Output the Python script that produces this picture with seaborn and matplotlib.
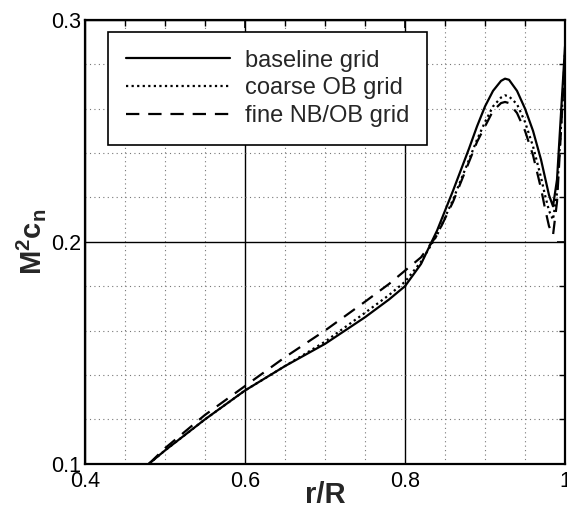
import numpy as np
import pandas as pd
import seaborn as sns
import matplotlib
matplotlib.use("Agg")
import matplotlib.pyplot as plt
from matplotlib.ticker import MultipleLocator

# data
x_base = [0.48, 0.50, 0.55, 0.60, 0.65, 0.70, 0.75, 0.78, 0.80, 0.82, 0.84, 0.86, 0.88,
          0.89, 0.90, 0.91, 0.92, 0.925, 0.93, 0.94, 0.95, 0.96, 0.97, 0.975, 0.98, 0.985,
          0.99, 0.995, 1.0]
y_base = [0.100, 0.106, 0.120, 0.133, 0.144, 0.154, 0.166, 0.174, 0.180, 0.190, 0.205, 0.223, 0.242,
          0.252, 0.261, 0.268, 0.2725, 0.2735, 0.273, 0.268, 0.260, 0.250, 0.237, 0.229, 0.221, 0.216,
          0.228, 0.258, 0.288]

x_coarse = [0.48, 0.50, 0.55, 0.60, 0.65, 0.70, 0.75, 0.78, 0.80, 0.82, 0.84, 0.86, 0.88,
            0.89, 0.90, 0.91, 0.92, 0.925, 0.93, 0.94, 0.95, 0.96, 0.97, 0.975, 0.98, 0.985,
            0.99, 0.995, 1.0]
y_coarse = [0.100, 0.106, 0.120, 0.133, 0.144, 0.155, 0.168, 0.176, 0.182, 0.191, 0.203, 0.219, 0.237,
            0.246, 0.254, 0.261, 0.265, 0.266, 0.2655, 0.262, 0.254, 0.243, 0.229, 0.221, 0.214, 0.210,
            0.222, 0.252, 0.285]

x_fine = [0.48, 0.50, 0.55, 0.60, 0.65, 0.70, 0.75, 0.78, 0.80, 0.82, 0.84, 0.86, 0.88,
          0.89, 0.90, 0.91, 0.92, 0.925, 0.93, 0.94, 0.95, 0.96, 0.97, 0.975, 0.98, 0.985,
          0.99, 0.995, 1.0]
y_fine = [0.100, 0.107, 0.122, 0.135, 0.148, 0.160, 0.173, 0.181, 0.187, 0.193, 0.203, 0.218, 0.236,
          0.245, 0.252, 0.259, 0.2625, 0.263, 0.2625, 0.258, 0.250, 0.239, 0.224, 0.215, 0.207, 0.203,
          0.218, 0.250, 0.284]

labels = ["baseline grid", "coarse OB grid", "fine NB/OB grid"]

df = pd.concat([
    pd.DataFrame({"r": x_base, "v": y_base, "grid": labels[0]}),
    pd.DataFrame({"r": x_coarse, "v": y_coarse, "grid": labels[1]}),
    pd.DataFrame({"r": x_fine, "v": y_fine, "grid": labels[2]}),
])

sns.set_theme(style="white")
plt.rcParams["font.family"] = ["Liberation Sans", "DejaVu Sans"]
plt.rcParams["mathtext.fontset"] = "custom"
plt.rcParams["mathtext.rm"] = "Liberation Sans"
plt.rcParams["mathtext.bf"] = "Liberation Sans:bold"
plt.rcParams["mathtext.it"] = "Liberation Sans:italic"

fig = plt.figure(figsize=(5.67, 5.09), dpi=100)
ax = fig.add_axes([0.150, 0.089, 0.8465, 0.872])

ax.xaxis.set_major_locator(MultipleLocator(0.2))
ax.xaxis.set_minor_locator(MultipleLocator(0.05))
ax.yaxis.set_major_locator(MultipleLocator(0.1))
ax.yaxis.set_minor_locator(MultipleLocator(0.02))
ax.grid(which="major", color="black", linewidth=1.0, linestyle="-")
ax.grid(which="minor", color="#777777", linewidth=0.8, linestyle=(0, (1, 3)))
ax.set_axisbelow(True)

styles = {labels[0]: "-", labels[1]: (0, (1, 1.5)), labels[2]: (0, (6, 4))}
for lab in labels:
    sub = df[df["grid"] == lab]
    sns.lineplot(data=sub, x="r", y="v", ax=ax, color="black", linewidth=1.6,
                 linestyle=styles[lab], label=lab, sort=False, estimator=None)

ax.set_xlim(0.4, 1.0)
ax.set_ylim(0.1, 0.3)
ax.set_xticks([0.4, 0.6, 0.8, 1.0])
ax.set_xticklabels(["0.4", "0.6", "0.8", "1"])
ax.set_yticks([0.1, 0.2, 0.3])
ax.set_yticklabels(["0.1", "0.2", "0.3"])

ax.tick_params(which="both", direction="in", top=True, right=True, colors="black",
               labelsize=15.5)
ax.tick_params(axis="x", pad=5)
ax.tick_params(axis="y", pad=3)
ax.tick_params(which="major", length=6, width=1.2)
ax.tick_params(which="minor", length=4, width=1.0)
for s in ax.spines.values():
    s.set_color("black")
    s.set_linewidth(1.6)

ax.set_xlabel("r/R", fontsize=21, fontweight="bold", labelpad=-8)
ax.set_ylabel(r"$\mathbf{M^2c_n}$", fontsize=21, labelpad=2)

leg = ax.legend(loc="upper left", bbox_to_anchor=(0.048, 0.973), fontsize=17,
                frameon=True, fancybox=False, handlelength=4.4, handletextpad=0.65,
                borderpad=0.75, labelspacing=0.25, borderaxespad=0)
leg.get_frame().set_edgecolor("black")
leg.get_frame().set_linewidth(1.2)
leg.get_frame().set_alpha(1)
for h in leg.get_lines():
    h.set_linewidth(1.6)

fig.savefig("out.png", dpi=100)
